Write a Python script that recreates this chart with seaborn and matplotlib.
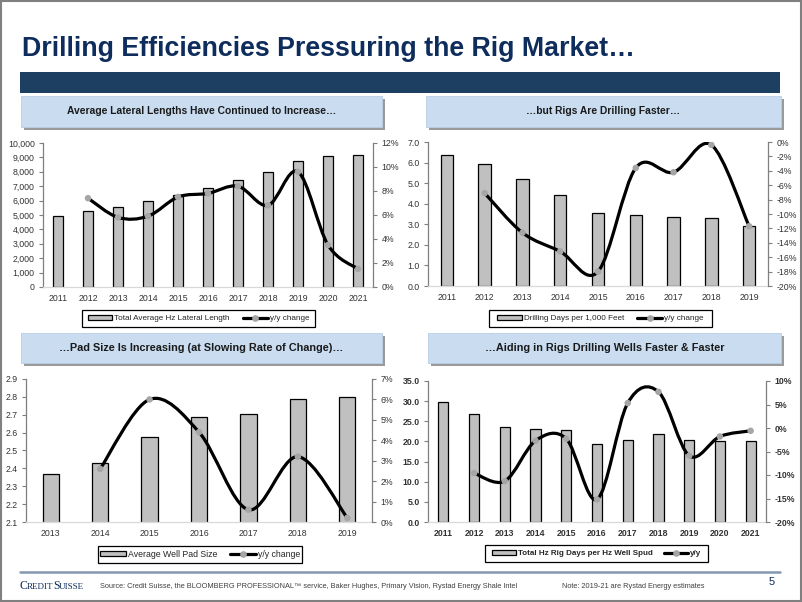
import numpy as np
import pandas as pd
import matplotlib
matplotlib.use("Agg")
import matplotlib.pyplot as plt
import seaborn as sns
from matplotlib.path import Path
from matplotlib.patches import PathPatch, Rectangle
from matplotlib.lines import Line2D
from matplotlib.ticker import FuncFormatter, MultipleLocator

# ---------------- data ----------------
lat_years = ['2011', '2012', '2013', '2014', '2015', '2016', '2017', '2018', '2019', '2020', '2021']
lat_length = [4950, 5300, 5580, 5950, 6420, 6860, 7440, 7980, 8720, 9070, 9190]
lat_yoy_years = ['2012', '2013', '2014', '2015', '2016', '2017', '2018', '2019', '2020', '2021']
lat_yoy = [7.4, 5.8, 5.9, 7.5, 7.8, 8.4, 6.8, 9.6, 3.5, 1.5]

days_years = ['2011', '2012', '2013', '2014', '2015', '2016', '2017', '2018', '2019']
days_per_kft = [6.37, 5.93, 5.18, 4.40, 3.57, 3.43, 3.34, 3.29, 2.92]
days_yoy_years = ['2012', '2013', '2014', '2015', '2016', '2017', '2018', '2019']
days_yoy = [-7.1, -12.6, -15.2, -18.0, -3.6, -4.2, -0.4, -11.7]

pad_years = ['2013', '2014', '2015', '2016', '2017', '2018', '2019']
pad_size = [2.37, 2.43, 2.578, 2.69, 2.705, 2.79, 2.797]
pad_yoy_years = ['2014', '2015', '2016', '2017', '2018', '2019']
pad_yoy = [2.6, 6.0, 4.4, 0.6, 3.2, 0.2]

spud_years = ['2011', '2012', '2013', '2014', '2015', '2016', '2017', '2018', '2019', '2020', '2021']
spud_days = [29.7, 26.8, 23.7, 23.1, 22.8, 19.3, 20.3, 21.8, 20.4, 20.2, 20.2]
spud_yoy_years = ['2012', '2013', '2014', '2015', '2016', '2017', '2018', '2019', '2020', '2021']
spud_yoy = [-9.6, -11.3, -2.7, -2.3, -15.2, 5.3, 7.7, -5.9, -1.8, -0.6]

title = "Drilling Efficiencies Pressuring the Rig Market\u2026"
headers = ["Average Lateral Lengths Have Continued to Increase\u2026",
           "\u2026but Rigs Are Drilling Faster\u2026",
           "\u2026Pad Size Is Increasing (at Slowing Rate of Change)\u2026",
           "\u2026Aiding in Rigs Drilling Wells Faster & Faster"]
source_txt = ("Source: Credit Suisse, the BLOOMBERG PROFESSIONAL\u2122 service, Baker Hughes, "
              "Primary Vision, Rystad Energy Shale Intel")
note_txt = "Note: 2019-21 are Rystad Energy estimates"

# ---------------- style ----------------
sns.set_theme(style="white")
SANS = ['Liberation Sans', 'DejaVu Sans']
plt.rcParams['font.family'] = SANS

W, H = 802, 602
fig = plt.figure(figsize=(W / 100, H / 100), dpi=100)
fig.patch.set_facecolor('white')

NAVY = '#0E2D5C'
BAND = '#1D3F62'
HDR = '#C9DCF0'
BAR = '#C0C0C0'
MARK = '#A6A6A6'
TXT = '#333333'


def rect(x0, y0, x1, y1):
    return [x0 / W, 1 - y1 / H, (x1 - x0) / W, (y1 - y0) / H]


def frect(x0, y0, x1, y1, **kw):
    fig.patches.append(Rectangle((x0 / W, 1 - y1 / H), (x1 - x0) / W, (y1 - y0) / H,
                                 transform=fig.transFigure, figure=fig, **kw))


def smooth_path(xs, ys):
    pts = np.column_stack([xs, ys]).astype(float)
    n = len(pts)
    verts = [pts[0]]
    codes = [Path.MOVETO]
    for i in range(n - 1):
        p0 = pts[i - 1] if i > 0 else pts[i]
        p1 = pts[i]
        p2 = pts[i + 1]
        p3 = pts[i + 2] if i + 2 < n else pts[i + 1]
        c1 = p1 + (p2 - p0) / 6.0
        c2 = p2 - (p3 - p1) / 6.0
        verts += [c1, c2, p2]
        codes += [Path.CURVE4] * 3
    return Path(verts, codes)


def panel(px, cats, bars, lcats, lvals, llim, lstep, lfmt, rlim, rstep,
          labels, leg_px, bold=False, fs=6.3, lfs=5.9, csp=1.6):
    weight = 'bold' if bold else 'normal'
    ax = fig.add_axes(rect(*px))
    df = pd.DataFrame({'year': cats, 'value': bars})
    sns.barplot(data=df, x='year', y='value', color=BAR, saturation=1,
                edgecolor='black', linewidth=0.9, width=0.33, ax=ax)
    ax.set_xlim(-0.5, len(cats) - 0.5)
    ax.set_ylim(*llim)
    ax.yaxis.set_major_locator(MultipleLocator(lstep))
    ax.yaxis.set_major_formatter(FuncFormatter(lambda v, p: lfmt.format(v)))
    ax.set_xlabel('')
    ax.set_ylabel('')
    for s in ['top', 'right']:
        ax.spines[s].set_visible(False)
    ax.spines['left'].set_color('#7F7F7F')
    ax.spines['left'].set_linewidth(0.9)
    ax.spines['bottom'].set_color('#D9D9D9')
    ax.spines['bottom'].set_linewidth(0.9)
    ax.tick_params(axis='y', left=True, length=3, width=0.8, color='#7F7F7F',
                   direction='out', pad=3, labelsize=fs, labelcolor=TXT)
    ax.tick_params(axis='x', bottom=False, length=0, pad=5, labelsize=fs, labelcolor=TXT)
    for t in ax.get_xticklabels() + ax.get_yticklabels():
        t.set_fontweight(weight)

    ax2 = ax.twinx()
    ax2.set_ylim(*rlim)
    ax2.yaxis.set_major_locator(MultipleLocator(rstep))
    ax2.yaxis.set_major_formatter(FuncFormatter(lambda v, p: '{:.0f}%'.format(v)))
    for s in ['top', 'left', 'bottom']:
        ax2.spines[s].set_visible(False)
    ax2.spines['right'].set_color('#7F7F7F')
    ax2.spines['right'].set_linewidth(0.9)
    ax2.tick_params(axis='y', right=True, length=3, width=0.8, color='#7F7F7F',
                    direction='out', pad=3, labelsize=fs, labelcolor=TXT)
    for t in ax2.get_yticklabels():
        t.set_fontweight(weight)
    ax2.grid(False)
    ax.grid(False)

    xpos = [cats.index(c) for c in lcats]
    ax2.add_patch(PathPatch(smooth_path(xpos, lvals), facecolor='none',
                            edgecolor='black', lw=2.3, capstyle='round', zorder=3))
    ldf = pd.DataFrame({'x': xpos, 'y': lvals})
    sns.scatterplot(data=ldf, x='x', y='y', color=MARK, s=22, edgecolor='none',
                    ax=ax2, zorder=4, legend=False)
    ax2.set_xlim(-0.5, len(cats) - 0.5)
    ax2.set_ylim(*rlim)
    ax2.set_xlabel('')
    ax2.set_ylabel('')

    # legend: frame drawn as exact box, entries centred in it
    x0, y0, x1, y1 = leg_px
    frect(x0, y0, x1, y1, facecolor='white', edgecolor='black', lw=0.9)
    handles = [Rectangle((0, 0), 1, 1, facecolor=BAR, edgecolor='black', lw=0.9),
               Line2D([], [], color='black', lw=2.3, marker='o', markersize=3.8,
                      markerfacecolor=MARK, markeredgecolor=MARK)]
    leg = fig.legend(handles, labels, loc='center',
                     bbox_to_anchor=((x0 + x1) / 2 / W, 1 - (y0 + y1) / 2 / H),
                     bbox_transform=fig.transFigure, ncol=2, frameon=False,
                     borderaxespad=0, borderpad=0.0, handlelength=3.0,
                     handleheight=0.5, handletextpad=0.25, columnspacing=csp,
                     prop={'family': SANS, 'size': lfs, 'weight': weight})
    for t in leg.get_texts():
        t.set_color('#262626')
    return ax, ax2


# ---------------- decorations ----------------
fig.text(22 / W, 1 - 49 / H, title, fontsize=19.3, fontweight='bold', color=NAVY,
         family=SANS, ha='left', va='center')
frect(20, 72, 780, 93, facecolor=BAND, edgecolor='none')

hdr_boxes = [(21, 96, 382, 127), (426, 96, 781, 127), (21, 333, 382, 363), (428, 333, 781, 363)]
hdr_sizes = [7.4, 7.4, 7.8, 7.8]
for (x0, y0, x1, y1), txt, hs in zip(hdr_boxes, headers, hdr_sizes):
    frect(x0 + 3, y0 + 3, x1 + 3, y1 + 3, facecolor='#9A9A9A', edgecolor='none')
    frect(x0, y0, x1, y1, facecolor=HDR, edgecolor='#B7CDE6', lw=0.6)
    fig.text((x0 + x1) / 2 / W, 1 - (y0 + y1) / 2 / H, txt, fontsize=hs,
             fontweight='bold', color='#1A1A1A', family=SANS, ha='center', va='center')

# ---------------- charts ----------------
panel((43, 143, 373, 287), lat_years, lat_length, lat_yoy_years, lat_yoy,
      (0, 10000), 1000, '{:,.0f}', (0, 12), 2,
      ['Total Average Hz Lateral Length', 'y/y change'], (82, 310, 315, 327))

panel((428, 142, 768, 286), days_years, days_per_kft, days_yoy_years, days_yoy,
      (0, 7), 1, '{:.1f}', (-20, 0), 2,
      ['Drilling Days per 1,000 Feet', 'y/y change'], (489, 310, 712, 327))

panel((26, 379, 372, 522), pad_years, pad_size, pad_yoy_years, pad_yoy,
      (2.1, 2.9), 0.1, '{:.1f}', (0, 7), 1,
      ['Average Well Pad Size', 'y/y change'], (98, 546, 302, 563), lfs=6.3, csp=1.4)

panel((428, 381, 766, 522), spud_years, spud_days, spud_yoy_years, spud_yoy,
      (0, 35), 5, '{:.1f}', (-20, 10), 5,
      ['Total Hz Rig Days per Hz Well Spud', 'y/y'], (485, 545, 708, 562),
      bold=True, lfs=5.8, csp=1.4)

# ---------------- footer ----------------
fig.add_artist(Line2D([20 / W, 780 / W], [1 - 572 / H, 1 - 572 / H], color='#8497B0',
                      lw=1.8, transform=fig.transFigure))
SERIF = ['Liberation Serif', 'DejaVu Serif']
fig.text(20 / W, 1 - 589 / H, 'C', fontsize=8.5, color=NAVY, family=SERIF,
         ha='left', va='baseline')
fig.text(26.5 / W, 1 - 589 / H, 'REDIT', fontsize=6.5, color=NAVY, family=SERIF,
         ha='left', va='baseline')
fig.text(53 / W, 1 - 589 / H, 'S', fontsize=8.5, color=NAVY, family=SERIF,
         ha='left', va='baseline')
fig.text(58.5 / W, 1 - 589 / H, 'UISSE', fontsize=6.5, color=NAVY, family=SERIF,
         ha='left', va='baseline')
fig.text(100 / W, 1 - 586 / H, source_txt, fontsize=5.3, color='#404040',
         family=SANS, ha='left', va='center')
fig.text(562 / W, 1 - 586 / H, note_txt, fontsize=5.3, color='#404040',
         family=SANS, ha='left', va='center')
fig.text(772 / W, 1 - 582 / H, '5', fontsize=8, color=NAVY, family=SANS,
         ha='center', va='center')

# slide border
fig.patches.append(Rectangle((0.001, 0.001), 0.998, 0.998, transform=fig.transFigure,
                             figure=fig, fill=False, edgecolor='#808080', lw=1.5))

fig.savefig('out.png', dpi=100, facecolor='white')
